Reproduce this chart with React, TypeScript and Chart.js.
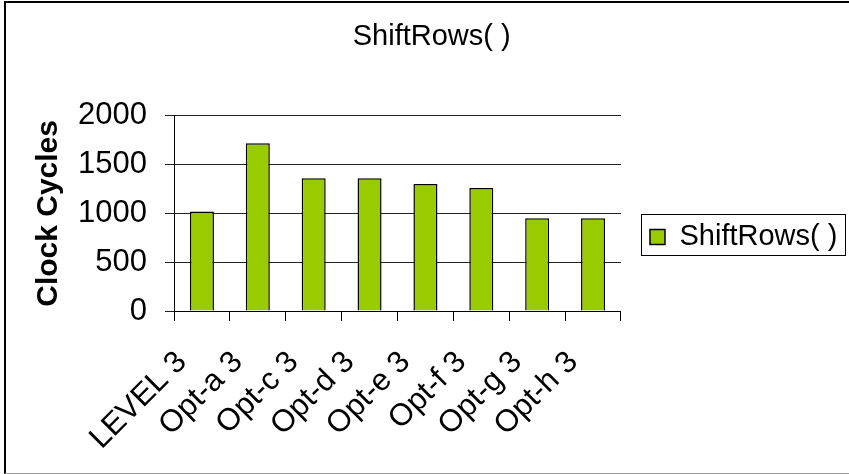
import React, { useEffect, useRef } from 'react';
import { Chart, registerables } from 'chart.js';

Chart.register(...registerables);

const categories = ['LEVEL 3', 'Opt-a 3', 'Opt-c 3', 'Opt-d 3', 'Opt-e 3', 'Opt-f 3', 'Opt-g 3', 'Opt-h 3'];
const shiftRowsValues = [1020, 1720, 1360, 1360, 1300, 1260, 950, 950];
const seriesLabel = 'ShiftRows( )';
const chartTitle = 'ShiftRows( )';
const yAxisTitle = 'Clock Cycles';
const yMin = 0;
const yMax = 2000;
const yStep = 500;

const FONT = "'Liberation Sans', Arial, Helvetica, sans-serif";

const legendBoxPlugin = {
  id: 'legendBox',
  afterDraw(chart: any) {
    const lg = chart.legend;
    const hb = lg && lg.legendHitBoxes && lg.legendHitBoxes[0];
    if (!hb) return;
    const ctx = chart.ctx;
    ctx.save();
    ctx.strokeStyle = '#000';
    ctx.lineWidth = 1;
    ctx.strokeRect(Math.round(hb.left - 9) + 0.5, Math.round(hb.top - 8.5) + 0.5, 204, 41);
    ctx.restore();
  },
};

export default function App() {
  const canvasRef = useRef<HTMLCanvasElement | null>(null);

  useEffect(() => {
    if (!canvasRef.current) return;
    Chart.defaults.font.family = FONT;
    const chart = new Chart(canvasRef.current, {
      type: 'bar',
      data: {
        labels: categories,
        datasets: [
          {
            label: seriesLabel,
            data: shiftRowsValues,
            backgroundColor: '#99CC00',
            borderColor: '#000000',
            borderWidth: 1.5,
            barPercentage: 0.43,
            categoryPercentage: 1,
          },
        ],
      },
      options: {
        responsive: false,
        animation: false,
        devicePixelRatio: 1,
        layout: { padding: { left: 16, right: 1.6, top: 0, bottom: 0 } },
        plugins: {
          title: {
            display: true,
            text: chartTitle,
            color: '#000',
            font: { size: 29, weight: 'normal', family: FONT },
            padding: { top: 20, bottom: 61 },
          },
          legend: {
            display: true,
            position: 'right',
            maxWidth: 400,
            labels: {
              color: '#000',
              font: { size: 29, family: FONT },
              boxWidth: 15,
              boxHeight: 15,
              padding: 29,
            },
          },
          tooltip: { enabled: false },
        },
        scales: {
          x: {
            offset: true,
            afterFit: (scale: any) => {
              scale.height = 163;
            },
            grid: {
              display: true,
              offset: true,
              drawOnChartArea: false,
              drawTicks: true,
              tickLength: 10,
              color: '#000',
            },
            border: { display: true, color: '#000', width: 1 },
            ticks: {
              color: '#000',
              font: { size: 31, family: FONT },
              maxRotation: 45,
              minRotation: 45,
              padding: 23,
              labelOffset: -20,
              autoSkip: false,
            },
          },
          y: {
            min: yMin,
            max: yMax,
            afterFit: (scale: any) => {
              scale.width = 158;
            },
            grid: {
              color: '#222',
              lineWidth: 1,
              tickLength: 9,
              drawTicks: true,
            },
            border: { display: true, color: '#000', width: 1 },
            ticks: {
              stepSize: yStep,
              color: '#000',
              font: { size: 31, family: FONT },
              padding: 18,
              callback: (v: any) => String(v),
            },
            title: {
              display: true,
              text: yAxisTitle,
              color: '#000',
              font: { size: 30, weight: 'bold', family: FONT },
              padding: { top: 15, bottom: 13 },
            },
          },
        },
      },
      plugins: [legendBoxPlugin],
    });
    return () => chart.destroy();
  }, []);

  return (
    <div style={{ position: 'fixed', left: 0, top: 0, width: 849, height: 474, background: '#fff', overflow: 'hidden' }}>
      <canvas ref={canvasRef} width={849} height={474} style={{ position: 'absolute', left: 0, top: 0, width: 849, height: 474 }} />
      <div
        style={{
          position: 'absolute',
          left: 4,
          top: 1,
          width: 870,
          height: 470,
          borderLeft: '2px solid #000',
          borderTop: '2px solid #000',
          borderBottom: '1px solid #999',
          pointerEvents: 'none',
        }}
      />
    </div>
  );
}
